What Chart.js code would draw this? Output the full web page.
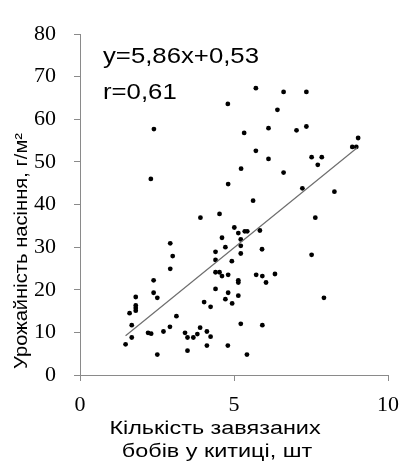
<!DOCTYPE html>
<html>
<head>
<meta charset="utf-8">
<script src="https://cdn.jsdelivr.net/npm/chart.js@4.4.1/dist/chart.umd.min.js"></script>
<style>
  body { margin: 0; background: #ffffff; }
</style>
</head>
<body>
<canvas id="beans" width="410" height="463"></canvas>
<script>
// number of set beans per raceme (x) vs seed yield g/m2 (y)
var beansX = [2.40, 4.80, 5.71, 6.61, 7.35, 6.41, 5.33, 6.12, 7.03, 7.35,
              9.03, 8.84, 8.97, 5.71, 6.12, 7.52, 7.85, 7.72, 5.23, 6.61,
              2.30, 4.81, 7.22, 8.26, 5.62, 4.53, 3.91, 7.64, 5.01, 5.14,
              5.35, 5.43, 5.84, 4.61, 5.22, 2.93, 4.72, 5.22, 5.91, 4.40,
              3.01, 5.22, 7.52, 4.40, 4.93, 2.93, 4.40, 4.53, 4.61, 4.81,
              5.72, 5.92, 6.33, 2.39, 5.14, 5.14, 6.04, 4.40, 2.39, 4.81,
              1.81, 2.51, 5.14, 7.92, 4.72, 4.03, 4.94, 1.81, 1.81, 1.81,
              4.24, 1.61, 3.13, 1.68, 5.22, 5.92, 2.92, 2.71, 2.21, 2.31,
              3.41, 3.90, 4.12, 3.49, 3.68, 3.81, 4.24, 1.68, 1.48, 4.12,
              4.80, 3.49, 2.51, 5.42];
var yieldY = [57.7, 63.6, 67.3, 66.4, 66.4, 62.2, 56.8, 57.9, 57.4, 58.3,
              55.6, 53.5, 53.5, 52.6, 50.7, 51.1, 51.1, 49.3, 48.4, 47.5,
              46.0, 44.8, 43.8, 43.0, 40.9, 37.8, 36.9, 36.9, 34.6, 33.3,
              33.7, 33.7, 33.9, 32.2, 31.8, 30.9, 30.0, 30.3, 29.5, 28.9,
              27.9, 28.5, 28.2, 27.0, 26.7, 24.9, 24.1, 24.1, 23.2, 23.5,
              23.5, 23.2, 23.7, 22.2, 22.2, 21.7, 21.7, 20.2, 19.3, 19.3,
              18.3, 18.1, 18.6, 18.1, 17.8, 17.1, 16.8, 16.3, 15.7, 15.1,
              16.0, 14.5, 13.8, 11.7, 12.0, 11.7, 11.3, 10.2, 9.9, 9.7,
              9.9, 11.1, 10.2, 8.8, 8.8, 9.6, 9.0, 8.8, 7.2, 6.9,
              6.9, 5.7, 4.8, 4.8];

// trend line ends
var trendX = [1.48, 9.0];
var trendY = [9.2, 53.3];

var xTicks = [0, 5, 10];
var equationText = ['y=5,86x+0,53', 'r=0,61'];
var xTitle = ['Кількість завязаних', 'бобів у китиці, шт'];
var yTitle = 'Урожайність насіння, г/м²';

function toPoints(xs, ys) {
    var pts = [];
    for (var i = 0; i < xs.length; i++) {
        pts.push({ x: xs[i], y: ys[i] });
    }
    return pts;
}

// text stretched sideways, the original picture is a bit wide
function wideText(ctx, text, x, y, stretch) {
    ctx.save();
    ctx.translate(x, y);
    ctx.scale(stretch, 1);
    ctx.fillText(text, 0, 0);
    ctx.restore();
}

// titles and equation drawn over the chart like in the original
var textPlugin = {
    id: 'texts',
    afterDraw: function(chart) {
        var ctx = chart.ctx;
        var area = chart.chartArea;
        ctx.save();
        ctx.fillStyle = '#000000';
        ctx.textBaseline = 'alphabetic';

        ctx.font = '22px "Liberation Sans", Arial, sans-serif';
        ctx.textAlign = 'left';
        wideText(ctx, equationText[0], area.left + 23, 63, 1.17);
        wideText(ctx, equationText[1], area.left + 23, 99, 1.17);

        ctx.font = '18px "Liberation Sans", Arial, sans-serif';
        ctx.textAlign = 'center';
        var cx = (area.left + area.right) / 2;
        wideText(ctx, xTitle[0], cx - 19, 434, 1.3);
        wideText(ctx, xTitle[1], cx - 17, 457, 1.3);

        ctx.translate(27, 251);
        ctx.rotate(-Math.PI / 2);
        wideText(ctx, yTitle, 0, 0, 1.12);
        ctx.restore();
    }
};

var axisColor = '#8a8a8a';
var tickFont = { family: '"Liberation Serif", "Times New Roman", serif', size: 22 };

var config = {
    type: 'scatter',
    data: {
        datasets: [{
            label: 'trend',
            type: 'line',
            data: toPoints(trendX, trendY),
            borderColor: '#6e6e6e',
            borderWidth: 1.2,
            pointRadius: 0,
            fill: false
        }, {
            label: 'points',
            data: toPoints(beansX, yieldY),
            backgroundColor: '#000000',
            borderColor: '#000000',
            pointRadius: 2.4,
            borderWidth: 0
        }]
    },
    options: {
        responsive: false,
        animation: false,
        layout: { padding: { top: 34, right: 17, bottom: 0, left: 0 } },
        plugins: {
            legend: { display: false },
            tooltip: { enabled: false }
        },
        scales: {
            x: {
                type: 'linear',
                min: 0,
                max: 10,
                afterBuildTicks: function(scale) {
                    scale.ticks = xTicks.map(function(v) { return { value: v }; });
                },
                afterFit: function(scale) { scale.height = 88; },
                ticks: { color: '#000000', font: tickFont, padding: 11, maxRotation: 0 },
                grid: { drawOnChartArea: false, drawTicks: true, tickLength: 6, color: axisColor },
                border: { color: axisColor, width: 1 }
            },
            y: {
                min: 0,
                max: 80,
                afterFit: function(scale) { scale.width = 80; },
                ticks: { stepSize: 10, color: '#000000', font: tickFont, padding: 18 },
                grid: { drawOnChartArea: false, drawTicks: true, tickLength: 6, color: axisColor },
                border: { color: axisColor, width: 1 }
            }
        }
    },
    plugins: [textPlugin]
};

var beansChart = new Chart(document.getElementById('beans'), config);
</script>
</body>
</html>
